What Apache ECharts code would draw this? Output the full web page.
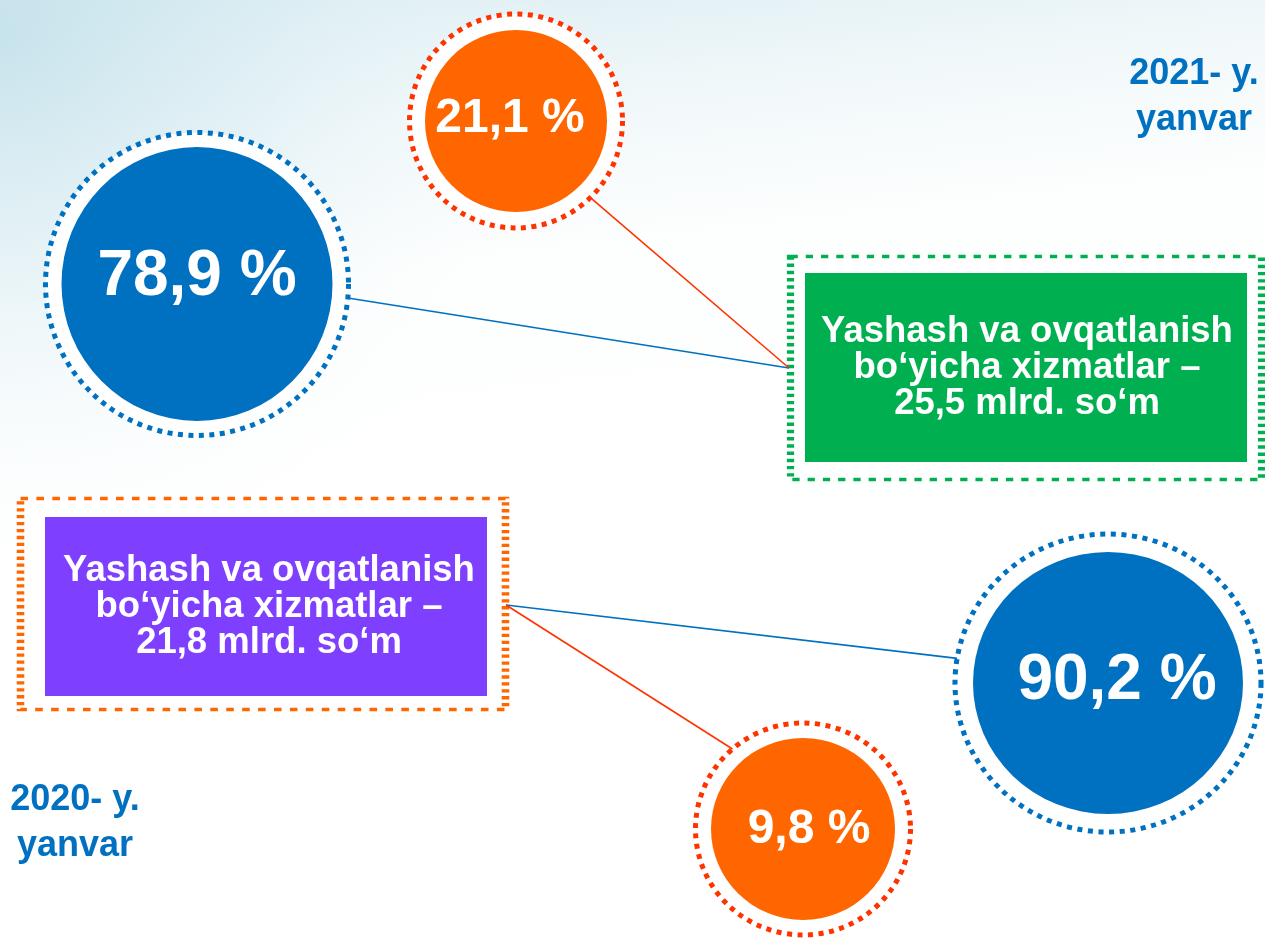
<!DOCTYPE html>
<html>
<head>
<meta charset="utf-8">
<script src="https://cdn.jsdelivr.net/npm/echarts@6/dist/echarts.min.js"></script>
<style>
html,body{margin:0;padding:0;background:#fff;}
#chart{width:1265px;height:939px;}
</style>
</head>
<body>
<div id="chart"></div>
<script>
// ---------- DATA ----------
const shareValues = [78.9, 21.1, 90.2, 9.8];           // %
const boxTitleLines = ['Yashash va ovqatlanish', 'bo‘yicha xizmatlar –'];
const boxAmounts = [25.5, 21.8];                       // mlrd. so‘m
const yearLabels = ['2021- y.', '2020- y.'];
const monthLabel = 'yanvar';

// ---------- LAYOUT (positions / sizes / styles) ----------
const FONT = '"Liberation Sans", Arial, sans-serif';
const BLUE = '#0070C0', ORANGE = '#FF6600', RED = '#FF3300', GREEN = '#00B050', PURPLE = '#7F3FFF';
const circleLayout = [
  {cx: 197,  cy: 284, fill: [271, 274], ring: [303, 303], color: BLUE,   ringColor: BLUE, font: 64, off: [0, -7]},
  {cx: 516,  cy: 121, fill: [182, 182], ring: [213, 214], color: ORANGE, ringColor: RED,  font: 48, off: [-6, -2]},
  {cx: 1108, cy: 683, fill: [270, 262], ring: [306, 298], color: BLUE,   ringColor: BLUE, font: 64, off: [9, -2]},
  {cx: 803,  cy: 829, fill: [184, 182], ring: [215, 212], color: ORANGE, ringColor: RED,  font: 48, off: [6, 1]}
];
const boxLayout = [
  {cx: 1026, cy: 368, outer: [471, 223], inner: [442, 189], innerCy: 367.5, color: GREEN,  border: GREEN,  off: [1, 0]},
  {cx: 263,  cy: 604, outer: [485, 211], inner: [442, 179], innerCx: 266, innerCy: 606.5, color: PURPLE, border: ORANGE, off: [3, 0]}
];
// connectors: from box anchor to circle ring edge at given angle (deg)
const connectorLayout = [
  {anchor: [789, 368], circle: 0, angle: 5.3,   color: BLUE},
  {anchor: [789, 368], circle: 1, angle: 45.7,  color: RED},
  {anchor: [506, 605], circle: 2, angle: 189.5, color: BLUE},
  {anchor: [506, 605], circle: 3, angle: 229,   color: RED}
];
const yearLayout = [
  {x: 1194, y: 97},
  {x: 75,   y: 823}
];

// ---------- BUILD ----------
const fmtPct = v => v.toFixed(1).replace('.', ',') + ' %';
const fmtAmt = v => v.toFixed(1).replace('.', ',') + ' mlrd. so‘m';

const connectorData = connectorLayout.map(c => {
  const L = circleLayout[c.circle];
  const a = c.angle * Math.PI / 180;
  const end = [L.cx + Math.cos(a) * L.ring[0] / 2, L.cy + Math.sin(a) * L.ring[1] / 2];
  return {coords: [c.anchor, end], lineStyle: {color: c.color}};
});

const ringData = circleLayout.map(L => ({
  value: [L.cx, L.cy],
  symbolSize: L.ring,
  itemStyle: {color: '#ffffff', opacity: 1, borderColor: L.ringColor, borderWidth: 5, borderType: [5, 5.5]}
}));

const fillData = shareValues.map((v, i) => {
  const L = circleLayout[i];
  return {
    value: [L.cx, L.cy, v],
    symbolSize: L.fill,
    itemStyle: {color: L.color, opacity: 1},
    label: {
      show: true, position: 'inside', formatter: fmtPct(v),
      color: '#fff', fontSize: L.font, fontWeight: 'bold', fontFamily: FONT,
      offset: L.off
    }
  };
});

const outerBoxData = boxLayout.map(B => ({
  value: [B.cx, B.cy],
  symbolSize: B.outer,
  itemStyle: {color: '#ffffff', opacity: 1, borderColor: B.border, borderWidth: 5, borderType: [5, 5.5]}
}));

const innerBoxData = boxAmounts.map((amt, i) => {
  const B = boxLayout[i];
  return {
    value: [B.innerCx || B.cx, B.innerCy || B.cy, amt],
    symbolSize: B.inner,
    itemStyle: {color: B.color, opacity: 1},
    label: {
      show: true, position: 'inside',
      formatter: boxTitleLines.concat([fmtAmt(amt)]).join('\n'),
      color: '#fff', fontSize: 36.5, fontWeight: 'bold', fontFamily: FONT,
      lineHeight: 36, align: 'center', offset: B.off
    }
  };
});

const yearData = yearLabels.map((t, i) => ({
  value: [yearLayout[i].x, yearLayout[i].y],
  label: {
    show: true, position: 'inside', formatter: t + '\n' + monthLabel,
    color: BLUE, fontSize: 36, fontWeight: 'bold', fontFamily: FONT, lineHeight: 46, align: 'center'
  }
}));

const chart = echarts.init(document.getElementById('chart'), null, {renderer: 'canvas'});
chart.setOption({
  animation: false,
  backgroundColor: '#ffffff',
  graphic: [
    {
      type: 'rect', z: -10, silent: true,
      shape: {x: 0, y: 0, width: 1265, height: 939},
      style: {fill: new echarts.graphic.LinearGradient(0, 0, 0.05, 0.6, [
        {offset: 0, color: '#d6ebf1'},
        {offset: 0.12, color: '#e3f1f5'},
        {offset: 0.3, color: '#f1f8fa'},
        {offset: 0.55, color: '#fdfefe'},
        {offset: 1, color: '#ffffff'}
      ])}
    },
    {
      type: 'rect', z: -9, silent: true,
      shape: {x: 0, y: 0, width: 800, height: 760},
      style: {fill: new echarts.graphic.RadialGradient(0, 0.05, 0.75, [
        {offset: 0, color: 'rgba(190,222,233,0.7)'},
        {offset: 0.45, color: 'rgba(214,235,242,0.45)'},
        {offset: 1, color: 'rgba(255,255,255,0)'}
      ])}
    }
  ],
  grid: {left: 0, right: 0, top: 0, bottom: 0},
  xAxis: {type: 'value', min: 0, max: 1265, show: false},
  yAxis: {type: 'value', min: 0, max: 939, inverse: true, show: false},
  series: [
    {
      type: 'lines', coordinateSystem: 'cartesian2d', z: 3, silent: true,
      lineStyle: {width: 1.6, opacity: 1},
      data: connectorData
    },
    {type: 'scatter', z: 2, silent: true, symbol: 'circle', itemStyle: {opacity: 1}, data: ringData},
    {type: 'scatter', z: 4, silent: true, symbol: 'circle', itemStyle: {opacity: 1}, data: fillData},
    {type: 'scatter', z: 2, silent: true, symbol: 'rect', itemStyle: {opacity: 1}, data: outerBoxData},
    {type: 'scatter', z: 4, silent: true, symbol: 'rect', itemStyle: {opacity: 1}, data: innerBoxData},
    {type: 'scatter', z: 5, silent: true, symbolSize: 1, itemStyle: {color: 'transparent', opacity: 1}, data: yearData}
  ]
});
</script>
</body>
</html>
